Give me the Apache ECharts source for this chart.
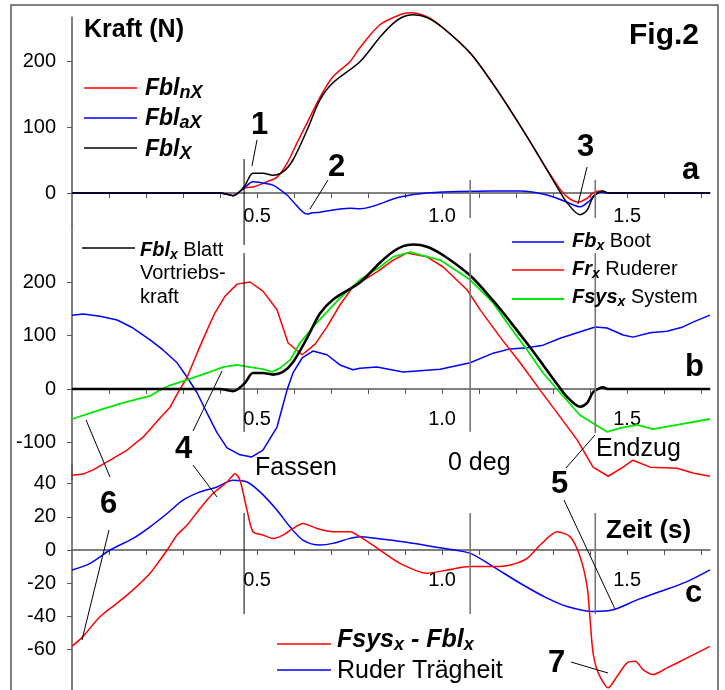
<!DOCTYPE html>
<html>
<head>
<meta charset="utf-8">
<script src="https://cdn.jsdelivr.net/npm/echarts@6/dist/echarts.min.js"></script>
<style>
html, body { margin: 0; padding: 0; background: #fff; }
#chart { width: 725px; height: 690px; }
</style>
</head>
<body>
<div id="chart"></div>
<script>
// Zeit (s) gegen Kraft (N), drei Teilbilder a / b / c
var FONT = '"Liberation Sans", Arial, sans-serif';

// --- panel a ---
var fblnX = [[0,0],[0.40,0],[0.42,-2],[0.435,-4],[0.449,0],[0.468,8],[0.489,9],[0.527,17],[0.554,24],[0.581,45],[0.608,76],[0.635,106],[0.670,145],[0.705,176],[0.751,199],[0.778,220],[0.832,255],[0.886,270],[0.914,273],[0.959,267],[1.003,250],[1.076,212],[1.138,165],[1.184,126],[1.230,85],[1.273,45],[1.311,12],[1.338,-6],[1.368,-14],[1.392,-8],[1.408,0],[1.427,3],[1.449,0],[1.724,0]];
var fblaX = [[0,0],[0.40,0],[0.42,-2],[0.435,-4],[0.449,0],[0.468,9],[0.489,17],[0.516,15],[0.543,12],[0.581,-3],[0.597,-13],[0.635,-32],[0.649,-30],[0.670,-29],[0.751,-23],[0.778,-24],[0.886,-6],[0.959,0],[1.138,3],[1.211,3],[1.284,-3],[1.338,-14],[1.373,-21],[1.400,-11],[1.419,0],[1.435,1],[1.449,0],[1.724,0]];
var fblX = [[0,0],[0.40,0],[0.42,-2],[0.435,-4],[0.449,0],[0.468,12],[0.489,30],[0.516,30],[0.543,27],[0.570,32],[0.597,50],[0.635,95],[0.670,141],[0.705,167],[0.778,199],[0.832,236],[0.868,257],[0.895,267],[0.922,270],[0.959,266],[1.003,250],[1.076,212],[1.138,165],[1.184,126],[1.230,85],[1.273,45],[1.311,9],[1.338,-15],[1.373,-33],[1.392,-26],[1.408,-6],[1.427,2],[1.435,3],[1.449,0],[1.724,0]];

// --- panel b ---
var fbX = [[0,138],[0.030,140],[0.076,136],[0.122,129],[0.165,114],[0.211,92],[0.246,73],[0.284,49],[0.311,22],[0.338,-7],[0.365,-45],[0.392,-82],[0.419,-110],[0.454,-123],[0.486,-127],[0.516,-114],[0.554,-71],[0.581,-2],[0.597,30],[0.622,58],[0.651,71],[0.689,64],[0.724,45],[0.759,36],[0.778,39],[0.824,41],[0.895,32],[0.995,37],[1.076,49],[1.138,67],[1.184,75],[1.230,77],[1.273,82],[1.319,95],[1.365,105],[1.414,116],[1.446,114],[1.489,101],[1.516,97],[1.562,105],[1.608,108],[1.651,116],[1.678,125],[1.724,138]];
var frX = [[0,-161],[0.030,-159],[0.057,-151],[0.103,-133],[0.149,-114],[0.192,-90],[0.238,-54],[0.265,-34],[0.286,-7],[0.311,22],[0.338,67],[0.365,110],[0.386,142],[0.414,174],[0.446,196],[0.481,200],[0.516,183],[0.554,148],[0.584,86],[0.622,64],[0.657,84],[0.689,116],[0.724,157],[0.759,191],[0.824,219],[0.868,241],[0.905,254],[0.959,247],[1.003,228],[1.068,185],[1.103,148],[1.157,97],[1.211,49],[1.265,-2],[1.319,-52],[1.365,-95],[1.408,-146],[1.449,-163],[1.489,-146],[1.516,-133],[1.562,-146],[1.635,-148],[1.678,-157],[1.724,-163]];
var fsysX = [[0,-56],[0.076,-39],[0.138,-26],[0.211,-13],[0.238,-2],[0.265,7],[0.311,17],[0.365,30],[0.408,41],[0.446,45],[0.481,41],[0.516,37],[0.541,32],[0.562,39],[0.589,54],[0.616,86],[0.651,116],[0.689,144],[0.724,170],[0.778,204],[0.832,228],[0.868,247],[0.914,256],[0.995,241],[1.076,204],[1.138,161],[1.184,116],[1.230,73],[1.273,30],[1.319,-7],[1.373,-49],[1.408,-64],[1.446,-80],[1.481,-73],[1.527,-67],[1.570,-75],[1.635,-67],[1.724,-56]];

// --- panel c ---
var diffX = [[0,-58],[0.030,-52],[0.076,-40],[0.122,-32],[0.165,-24],[0.211,-14],[0.238,-6],[0.257,0],[0.284,9],[0.311,15],[0.346,25],[0.381,34],[0.419,41],[0.441,46],[0.454,42],[0.473,24],[0.489,11],[0.516,9],[0.543,7],[0.570,9],[0.597,13],[0.624,16],[0.662,13],[0.705,11],[0.751,11],[0.778,8],[0.832,0],[0.886,-8],[0.959,-14],[1.014,-12],[1.076,-10],[1.138,-10],[1.184,-9],[1.230,-5],[1.265,3],[1.311,11],[1.346,8],[1.373,-4],[1.392,-22],[1.400,-42],[1.408,-62],[1.422,-74],[1.449,-83],[1.473,-76],[1.500,-68],[1.522,-67],[1.543,-72],[1.570,-75],[1.608,-71],[1.662,-65],[1.724,-58]];
var ruderX = [[0,-12],[0.049,-8],[0.103,0],[0.165,7],[0.211,14],[0.257,22],[0.300,30],[0.346,35],[0.392,38],[0.435,42],[0.473,41],[0.508,35],[0.554,24],[0.589,14],[0.624,6],[0.670,3],[0.705,4],[0.751,7],[0.778,8],[0.824,7],[0.895,5],[1.003,1],[1.076,-2],[1.138,-10],[1.211,-20],[1.284,-29],[1.338,-34],[1.408,-37],[1.462,-36],[1.527,-30],[1.589,-25],[1.662,-19],[1.724,-12]];

// axis ticks / labels
var xTicks = [0.1,0.2,0.3,0.4,0.5,0.6,0.7,0.8,0.9,1.0,1.1,1.2,1.3,1.4,1.5,1.6,1.7];
var xLabels = [0.5, 1.0, 1.5];
var yLabelsA = [0, 100, 200];
var yLabelsB = [-100, 0, 100, 200];
var yLabelsC = [-60, -40, -20, 0, 20, 40];

// vertical phase markers: [panel, t, from, to]
var phaseLines = [
    [0, 0.465, 51.5, -78.8], [0, 1.076, 19.7, -37.9], [0, 1.414, 19.7, -37.9],
    [1, 0.465, 254, -80], [1, 1.076, 254, -80], [1, 1.414, 254, -82],
    [2, 0.465, 22.3, -38.6], [2, 1.076, 22.3, -38.6], [2, 1.414, 22.3, -38.6]
];

var grids = [
    {top: 17, height: 208, min: -48.5, max: 266.7, labels: yLabelsA, margin: 13},
    {top: 225, height: 255, min: -170, max: 306.5, labels: yLabelsB, margin: 20},
    {top: 465, height: 225, min: -84.3, max: 51.2, labels: yLabelsC, margin: 20}
];

var chart = echarts.init(document.getElementById('chart'));

// x axis sits on the zero line of its panel
function xAxisFor(i) {
    var gr = grids[i];
    var zeroOffset = -gr.height * (0 - gr.min) / (gr.max - gr.min);
    return {
        type: 'value', gridIndex: i, min: 0, max: 1.724,
        position: 'bottom', offset: zeroOffset,
        axisLine: {onZero: false, lineStyle: {color: '#555', width: 1.5}},
        axisTick: {show: true, length: 5, customValues: xTicks, lineStyle: {color: '#555', width: 1}},
        axisLabel: {customValues: xLabels, formatter: function (v) { return v.toFixed(1); },
            fontSize: 20, fontFamily: FONT, color: '#000', margin: gr.margin},
        splitLine: {show: false}
    };
}
function yAxisFor(i) {
    var gr = grids[i];
    return {
        type: 'value', gridIndex: i, min: gr.min, max: gr.max,
        axisLine: {show: true, onZero: false, lineStyle: {color: '#555', width: 1.5}},
        axisTick: {show: true, length: 5, customValues: gr.labels, lineStyle: {color: '#555'}},
        axisLabel: {customValues: gr.labels, fontSize: 20, fontFamily: FONT, color: '#000', margin: 16},
        splitLine: {show: false}
    };
}
function lineSeries(i, data, color, width, smooth) {
    return {
        type: 'line', xAxisIndex: i, yAxisIndex: i, data: data,
        showSymbol: false, smooth: smooth, clip: false,
        lineStyle: {color: color, width: width}, silent: true
    };
}

var option = {
    animation: false,
    backgroundColor: '#fff',
    grid: grids.map(function (gr) {
        return {left: 72, right: 15, top: gr.top, height: gr.height, outerBoundsMode: 'none'};
    }),
    xAxis: [xAxisFor(0), xAxisFor(1), xAxisFor(2)],
    yAxis: [yAxisFor(0), yAxisFor(1), yAxisFor(2)],
    series: [
        lineSeries(0, fblnX, '#ff0000', 1.5, 0.3),
        lineSeries(0, fblaX, '#0000ff', 1.5, 0.3),
        lineSeries(0, fblX, '#000000', 1.5, 0.3),
        lineSeries(1, fbX, '#0000ff', 1.5, false),
        lineSeries(1, frX, '#ff0000', 1.5, false),
        lineSeries(1, fsysX, '#00e600', 1.8, false),
        lineSeries(1, fblX, '#000000', 2.6, 0.3),
        lineSeries(2, ruderX, '#0000ff', 1.5, 0.3),
        lineSeries(2, diffX, '#ff0000', 1.5, 0.25)
    ]
};
chart.setOption(option);

function txt(x, y, text, size, weight, style) {
    return {type: 'text', x: x, y: y, silent: true, z: 10,
        style: {text: text, fill: '#000', align: 'left', verticalAlign: 'middle',
            font: (style || 'normal') + ' ' + (weight || 'normal') + ' ' + size + 'px ' + FONT}};
}
// text with bold-italic name and subscript, e.g. "{m|Fbl}{s|x} Blatt"
function sub(x, y, rich, size, subSize, restWeight) {
    return {type: 'text', x: x, y: y, silent: true, z: 10,
        style: {text: rich, fill: '#000', align: 'left', verticalAlign: 'middle',
            rich: {
                m: {fontSize: size, fontFamily: FONT, fontWeight: 'bold', fontStyle: 'italic', lineHeight: size + 4, fill: '#000'},
                s: {fontSize: subSize, fontFamily: FONT, fontWeight: 'bold', fontStyle: 'italic', lineHeight: subSize + 1, verticalAlign: 'bottom', fill: '#000'},
                r: {fontSize: size, fontFamily: FONT, fontWeight: restWeight || 'normal', lineHeight: size + 4, fill: '#000'}
            }}};
}
function seg(x1, y1, x2, y2, color, w) {
    return {type: 'line', silent: true, z: 9, shape: {x1: x1, y1: y1, x2: x2, y2: y2},
        style: {stroke: color || '#000', lineWidth: w || 1}};
}

var g = [];
// frame
g.push({type: 'rect', silent: true, z: 0, shape: {x: 11, y: 5, width: 707, height: 700},
    style: {fill: null, stroke: '#555', lineWidth: 1.5}});

// phase markers through the axes
phaseLines.forEach(function (m) {
    var p1 = chart.convertToPixel({gridIndex: m[0]}, [m[1], m[2]]);
    var p2 = chart.convertToPixel({gridIndex: m[0]}, [m[1], m[3]]);
    var first = m[1] < 0.5;
    g.push(seg(p1[0], p1[1], p2[0], p2[1], first ? '#000' : '#777', first ? 1 : 1.6));
});

// titles
g.push(txt(84, 30, 'Kraft (N)', 25, 'bold'));
g.push(txt(629, 36, 'Fig.2', 30, 'bold'));

// legend a
g.push(seg(84, 88, 137, 88, '#ff0000', 1.5));
g.push(seg(84, 118, 137, 118, '#0000ff', 1.5));
g.push(seg(84, 148, 137, 148, '#000', 1.5));
g.push(sub(145, 89, '{m|Fbl}{s|nX}', 23, 18));
g.push(sub(145, 119, '{m|Fbl}{s|aX}', 23, 18));
g.push(sub(145, 150, '{m|Fbl}{s|X}', 23, 18));

// legend b
g.push(seg(82, 248, 135, 248, '#000', 1.5));
g.push(sub(140, 250, '{m|Fbl}{s|x}{r| Blatt}', 20, 14));
g.push(txt(140, 273, 'Vortriebs-', 20));
g.push(txt(140, 297, 'kraft', 20));
g.push(seg(512, 242, 564, 242, '#0000ff', 1.5));
g.push(seg(512, 270, 564, 270, '#ff0000', 1.5));
g.push(seg(512, 299, 564, 299, '#00e600', 1.8));
g.push(sub(572, 241, '{m|Fb}{s|x}{r| Boot}', 20, 14));
g.push(sub(572, 269, '{m|Fr}{s|x}{r| Ruderer}', 20, 14));
g.push(sub(572, 297, '{m|Fsys}{s|x}{r| System}', 20, 14));

// legend c
g.push(seg(277, 644, 331, 644, '#ff0000', 1.5));
g.push(seg(277, 670, 331, 670, '#0000ff', 1.5));
g.push(sub(337, 640, '{m|Fsys}{s|x}{m| - Fbl}{s|x}', 25, 18));
g.push(txt(337, 671, 'Ruder Trägheit', 25));

// panel letters, words, numbers
g.push(txt(682, 170, 'a', 31, 'bold'));
g.push(txt(685, 367, 'b', 31, 'bold'));
g.push(txt(685, 593, 'c', 31, 'bold'));
g.push(txt(606, 531, 'Zeit (s)', 26, 'bold'));
g.push(txt(255, 468, 'Fassen', 25));
g.push(txt(448, 463, '0 deg', 25));
g.push(txt(596, 449, 'Endzug', 25));
g.push(txt(251, 125, '1', 31, 'bold'));
g.push(txt(328, 167, '2', 31, 'bold'));
g.push(txt(577, 147, '3', 31, 'bold'));
g.push(txt(175, 449, '4', 31, 'bold'));
g.push(txt(551, 484, '5', 31, 'bold'));
g.push(txt(100, 504, '6', 31, 'bold'));
g.push(txt(548, 663, '7', 31, 'bold'));

// leader lines
g.push(seg(257, 140, 252, 166));
g.push(seg(328, 180, 310, 209));
g.push(seg(587, 167, 578, 204));
g.push(seg(222, 371, 193, 431));
g.push(seg(193, 465, 217, 497));
g.push(seg(86, 420, 110, 477));
g.push(seg(109, 530, 82, 640));
g.push(seg(595, 435, 566, 468));
g.push(seg(564, 500, 615, 609));
g.push(seg(571, 662, 608, 673));

chart.setOption({graphic: g});
</script>
</body>
</html>
